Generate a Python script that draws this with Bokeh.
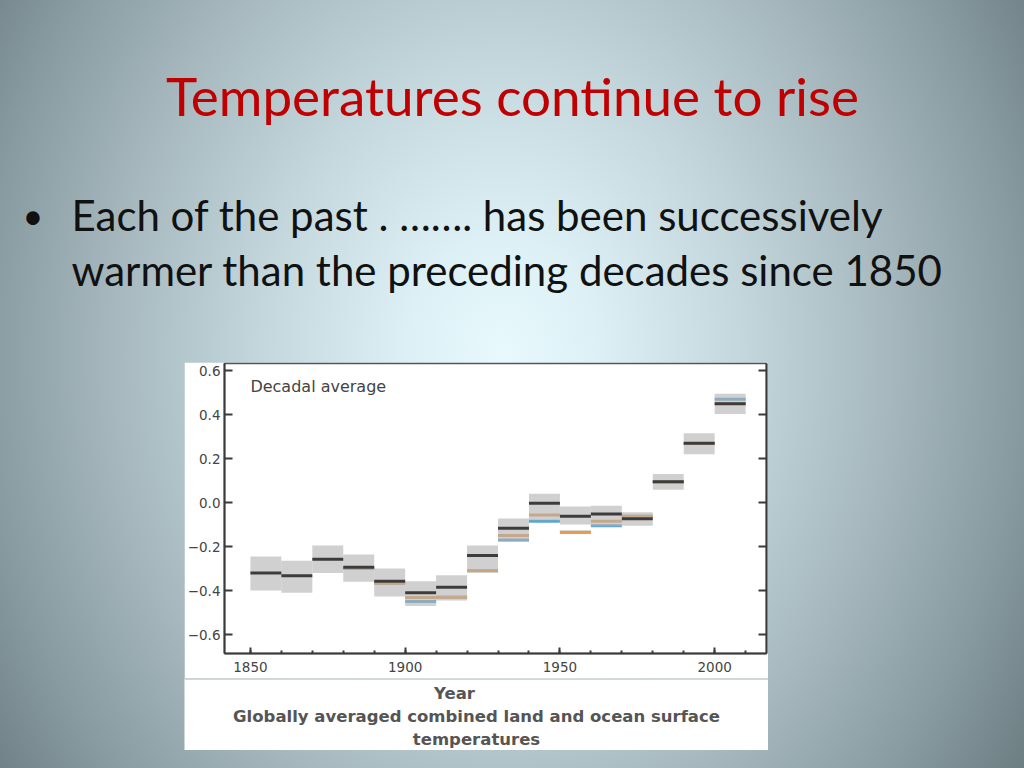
from bokeh.plotting import figure
from bokeh.models import Range1d, FixedTicker, LinearAxis, Label, Spacer, Span
from bokeh.layouts import column, row
from bokeh.core.properties import value
from bokeh.embed import file_html
from bokeh.resources import INLINE

# ---------------- data ----------------
title_text = "Temperatures continue to rise"
bullet_lines = ["Each of the past . \u2026\u2026. has been successively",
                "warmer than the preceding decades since 1850"]

decades = [1850, 1860, 1870, 1880, 1890, 1900, 1910, 1920,
           1930, 1940, 1950, 1960, 1970, 1980, 1990, 2000]
hadcrut4 = [-0.320, -0.333, -0.258, -0.294, -0.358, -0.410, -0.385, -0.241,
            -0.117, -0.003, -0.062, -0.052, -0.074, 0.095, 0.270, 0.449]
hadcrut4_low = [-0.400, -0.410, -0.320, -0.360, -0.427, -0.470, -0.445, -0.317,
                -0.177, -0.080, -0.100, -0.108, -0.105, 0.058, 0.220, 0.403]
hadcrut4_high = [-0.245, -0.264, -0.195, -0.236, -0.300, -0.358, -0.330, -0.195,
                 -0.073, 0.040, -0.018, -0.014, -0.044, 0.130, 0.315, 0.494]

other_decades = [1880, 1890, 1900, 1910, 1920, 1930, 1940, 1950, 1960, 1970, 1980, 1990, 2000]
mlost = [-0.300, -0.367, -0.432, -0.430, -0.310, -0.150, -0.056, -0.135, -0.085, -0.062, 0.095, 0.268, 0.450]
gistemp = [-0.300, -0.367, -0.450, -0.430, -0.310, -0.170, -0.085, -0.135, -0.105, -0.062, 0.095, 0.268, 0.470]

y_ticks = [-0.6, -0.4, -0.2, 0.0, 0.2, 0.4, 0.6]
y_tick_labels = ["\u22120.6", "\u22120.4", "\u22120.2", "0.0", "0.2", "0.4", "0.6"]
x_ticks = [1850, 1900, 1950, 2000]
x_minor_ticks = list(range(1850, 2011, 10))
chart_label = "Decadal average"
caption_lines = ["Year", "Globally averaged combined land and ocean surface", "temperatures"]

# ---------------- slide header ----------------
hdr = figure(width=1024, height=362, x_range=Range1d(0, 1024), y_range=Range1d(362, 0),
             output_backend="svg", toolbar_location=None, min_border=0,
             x_axis_location=None, y_axis_location=None)
hdr.grid.visible = False
hdr.outline_line_color = None
hdr.border_fill_color = None
hdr.background_fill_color = None

hdr.text(x=[512], y=[95], text=[title_text], text_font=value("Lato"),
         text_font_size="53px", text_color="#c00000", text_align="center",
         text_baseline="alphabetic")
hdr.text(x=[22], y=[214], text=["\u2022"], text_font=value("Lato"),
         text_font_size="36px", text_color="#111111", text_baseline="alphabetic")
hdr.text(x=[71, 71], y=[214, 269], text=bullet_lines, text_font=value("Lato"),
         text_font_size="42px", text_color="#111111", text_baseline="alphabetic")

# ---------------- chart ----------------
FONT = "DejaVu Sans"
ch = figure(width=584, height=316,
            x_range=Range1d(1841.63, 2016.74), y_range=Range1d(-0.686, 0.632),
            output_backend="svg", toolbar_location=None,
            min_border_left=38, min_border_right=2, min_border_top=1, min_border_bottom=25,
            x_axis_location=None, y_axis_location=None)
ch.grid.visible = False
ch.border_fill_color = "white"
ch.background_fill_color = "white"
ch.outline_line_color = "#555555"
ch.outline_line_width = 1.5

left_ax = LinearAxis(ticker=FixedTicker(ticks=y_ticks, minor_ticks=[]),
                     major_label_overrides=dict(zip(y_ticks, y_tick_labels)))
right_ax = LinearAxis(ticker=FixedTicker(ticks=y_ticks, minor_ticks=[]),
                      major_label_overrides={t: "" for t in y_ticks},
                      major_label_standoff=0)
bottom_ax = LinearAxis(ticker=FixedTicker(ticks=x_ticks, minor_ticks=x_minor_ticks))
for ax in (left_ax, right_ax, bottom_ax):
    ax.axis_line_color = "#3a3a3a"
    ax.axis_line_width = 2
    ax.major_tick_line_color = "#3a3a3a"
    ax.major_tick_line_width = 2
    ax.major_tick_in = 8
    ax.major_tick_out = 0
    ax.minor_tick_in = 3
    ax.minor_tick_out = 0
    ax.minor_tick_line_color = "#3a3a3a"
    ax.minor_tick_line_width = 2
    ax.major_label_text_font = FONT
    ax.major_label_text_color = "#444444"
    ax.major_label_text_font_size = "13.5px"
left_ax.major_label_standoff = 4
bottom_ax.major_label_standoff = 8
bottom_ax.major_tick_in = 6
ch.add_layout(left_ax, "left")
ch.add_layout(right_ax, "right")
ch.add_layout(bottom_ax, "below")

gis_right = [d + 10 for d in other_decades]
ch.segment(x0=other_decades, x1=gis_right, y0=gistemp, y1=gistemp,
           line_color="#5aa6d6", line_width=3)
ch.segment(x0=other_decades, x1=gis_right, y0=mlost, y1=mlost,
           line_color="#e99a50", line_width=3)
dec_right = [d + 10 for d in decades]
ch.quad(left=decades, right=dec_right, bottom=hadcrut4_low, top=hadcrut4_high,
        fill_color="#b0b0b0", fill_alpha=0.6, line_color=None)
ch.segment(x0=decades, x1=dec_right, y0=hadcrut4, y1=hadcrut4,
           line_color="#3c3c3c", line_width=3)

ch.add_layout(Label(x=1850, y=0.527, text=chart_label, text_font=FONT,
                    text_font_size="16px", text_color="#444444",
                    text_baseline="middle"))

# ---------------- caption ----------------
cap = figure(width=584, height=72, x_range=Range1d(0, 584), y_range=Range1d(72, 0),
             output_backend="svg", toolbar_location=None, min_border=0,
             x_axis_location=None, y_axis_location=None)
cap.grid.visible = False
cap.outline_line_color = None
cap.border_fill_color = "white"
cap.background_fill_color = "white"
cap.add_layout(Span(location=0.6, dimension="width", line_color="#c8c8c8", line_width=1.5))
cap.text(x=[270, 292, 292], y=[15, 38, 61], text=caption_lines,
         text_font=value(FONT), text_font_style="bold", text_font_size="16.5px",
         text_color="#555555", text_align="center", text_baseline="middle")

# ---------------- layout ----------------
layout = column(
    hdr,
    row(Spacer(width=184, height=316), ch, Spacer(width=256, height=316)),
    row(Spacer(width=184, height=72), cap, Spacer(width=256, height=72)),
    Spacer(width=1024, height=18),
    styles={"background": "radial-gradient(ellipse 630px 770px at 49% 46%, "
                          "#e8f9fd 0%, #dcf0f5 15%, #c3d7dd 38%, #a6b8bd 62%, "
                          "#889ba0 82%, #6b7c81 100%)"},
)

open("out.html", "w").write(file_html(layout, INLINE))
